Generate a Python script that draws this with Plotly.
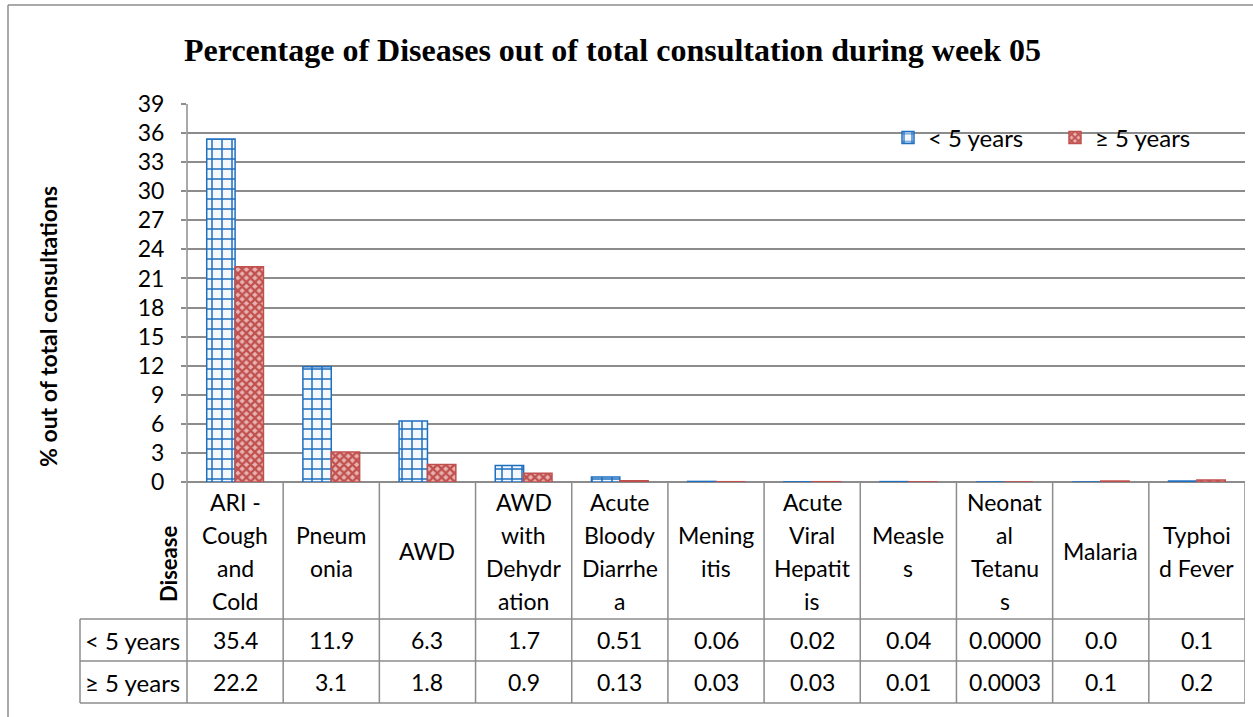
import plotly.graph_objects as go

W, H = 1253, 717

categories = ["ARI -<br>Cough<br>and<br>Cold", "Pneum<br>onia", "AWD", "AWD<br>with<br>Dehydr<br>ation",
              "Acute<br>Bloody<br>Diarrhe<br>a", "Mening<br>itis", "Acute<br>Viral<br>Hepatit<br>is",
              "Measle<br>s", "Neonat<br>al<br>Tetanu<br>s", "Malaria", "Typhoi<br>d Fever"]
under5 = [35.4, 11.9, 6.3, 1.7, 0.51, 0.06, 0.02, 0.04, 0.0000, 0.0, 0.1]
over5 = [22.2, 3.1, 1.8, 0.9, 0.13, 0.03, 0.03, 0.01, 0.0003, 0.1, 0.2]
under5_labels = ["35.4", "11.9", "6.3", "1.7", "0.51", "0.06", "0.02", "0.04", "0.0000", "0.0", "0.1"]
over5_labels = ["22.2", "3.1", "1.8", "0.9", "0.13", "0.03", "0.03", "0.01", "0.0003", "0.1", "0.2"]
series_names = ["< 5 years", "≥ 5 years"]
y_ticks = list(range(0, 40, 3))

BLUE = "#1F6FC0"
RED = "#C0504D"
GRID = "#8C8C8C"
FONT = "Lato"
FS = 23

# pixel layout
PL, PR, PT, PB = 187, 1245, 104, 482
ROW1, ROW2, ROW3 = 619, 661, 703
LABEL_L = 80

def py(p):
    return 1 - p / H

def px(p):
    return p / W

idx = list(range(len(categories)))

fig = go.Figure()
fig.add_trace(go.Bar(
    x=idx, y=under5, name=series_names[0],
    marker=dict(color="white", line=dict(color=BLUE, width=1.5),
                pattern=dict(shape="+", fgcolor=BLUE, bgcolor="#F4F8FD", size=10, solidity=0.28)),
))
fig.add_trace(go.Bar(
    x=idx, y=over5, name=series_names[1],
    marker=dict(color="white", line=dict(color=RED, width=1.5),
                pattern=dict(shape="x", fgcolor=RED, bgcolor="#E8B4B3", size=6, solidity=0.62)),
))

shapes = []
line = dict(color=GRID, width=1.5)
# outer frame
shapes.append(dict(type="line", xref="paper", yref="paper", x0=px(8), x1=px(8), y0=py(5), y1=py(H), line=line))
shapes.append(dict(type="line", xref="paper", yref="paper", x0=px(8), x1=px(W), y0=py(5), y1=py(5), line=line))
# table horizontal lines
for yy in (ROW1, ROW2, ROW3):
    shapes.append(dict(type="line", xref="paper", yref="paper", x0=px(LABEL_L), x1=px(PR), y0=py(yy), y1=py(yy), line=line))
# row label left edge
shapes.append(dict(type="line", xref="paper", yref="paper", x0=px(LABEL_L), x1=px(LABEL_L), y0=py(ROW1), y1=py(ROW3), line=line))
# axis line extended down
shapes.append(dict(type="line", xref="paper", yref="paper", x0=px(PL), x1=px(PL), y0=py(PT), y1=py(ROW3), line=line))
# column boundaries
for i in range(1, len(categories) + 1):
    shapes.append(dict(type="line", xref="x", yref="paper", x0=i - 0.5, x1=i - 0.5, y0=py(PB), y1=py(ROW3), line=line))

def A(text, x, y, xref="paper", size=FS, family=FONT, angle=0):
    return dict(text=text, xref=xref, yref="paper", x=x, y=y, showarrow=False,
                xanchor="center", yanchor="middle", textangle=angle,
                font=dict(family=family, size=size, color="black"))

ann = []
ann.append(A("<b>Percentage of Diseases out of total consultation during week 05</b>",
             px(612), py(50), size=32, family="Liberation Serif"))
ann.append(A("<b>% out of total consultations</b>", px(48), py(327), size=23, angle=-90))
ann.append(A("<b>Disease</b>", px(168), py(564), size=22, angle=-90))
# header cells, line by line
LS = 33
for i, c in enumerate(categories):
    lines = c.split("<br>")
    n = len(lines)
    cy = 551
    for k, t in enumerate(lines):
        yy = cy + (k - (n - 1) / 2) * LS
        ann.append(A(t, i, py(yy), xref="x"))
# values
for i in idx:
    ann.append(A(under5_labels[i], i, py(640), xref="x"))
    ann.append(A(over5_labels[i], i, py(682), xref="x"))
for name, yy in zip(series_names, (640, 682)):
    ann.append(A(name, px(132), py(yy), size=24))

fig.update_layout(
    template="none",
    width=W, height=H, autosize=False,
    margin=dict(l=0, r=0, t=0, b=0, pad=0),
    paper_bgcolor="white", plot_bgcolor="white",
    barmode="group", bargap=0.41, bargroupgap=0,
    showlegend=True,
    legend=dict(orientation="h", x=px(888), y=py(138), xanchor="left", yanchor="middle",
                bgcolor="rgba(0,0,0,0)", font=dict(family=FONT, size=24, color="black"),
                itemwidth=30, tracegroupgap=0, entrywidth=122, entrywidthmode="pixels"),
    shapes=shapes, annotations=ann,
    xaxis=dict(domain=[px(PL), px(PR)], range=[-0.5, len(categories) - 0.5],
               showticklabels=False, ticks="", showgrid=False, zeroline=False,
               showline=False, automargin=False),
    yaxis=dict(domain=[py(PB), py(PT)], range=[0, 39], tickvals=y_ticks, automargin=False,
               showgrid=True, gridcolor=GRID, gridwidth=1.5, zeroline=True, zerolinecolor=GRID,
               zerolinewidth=1.5, showline=False, ticks="outside", ticklen=5, tickcolor=GRID,
               tickwidth=1.5, ticklabelstandoff=12,
               tickfont=dict(family=FONT, size=FS, color="black")),
)

fig.write_html("out.html", config={"displayModeBar": False},
               post_script="document.body.style.margin='0';document.body.style.overflow='hidden';")
